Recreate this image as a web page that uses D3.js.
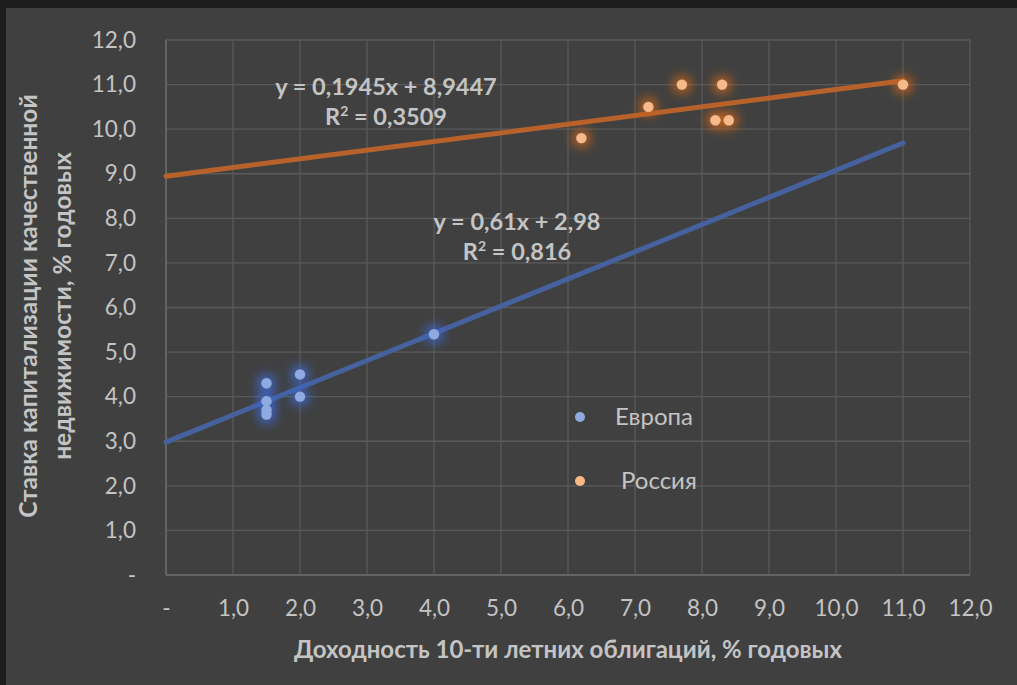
<!DOCTYPE html>
<html>
<head>
<meta charset="utf-8">
<script src="https://cdn.jsdelivr.net/npm/d3@7"></script>
<style>
  html, body { margin: 0; padding: 0; background: #1c1c1c; }
  svg { display: block; }
</style>
</head>
<body>
<svg id="chart" width="1017" height="685"></svg>
<script>
// Bond yields (x) vs. prime real estate cap rates (y), % per year
const europeX = [1.5, 1.5, 1.5, 1.5, 2.0, 2.0, 4.0];
const europeY = [4.3, 3.9, 3.7, 3.6, 4.5, 4.0, 5.4];
const russiaX = [6.2, 7.2, 7.7, 8.3, 8.2, 8.4, 11.0];
const russiaY = [9.8, 10.5, 11.0, 11.0, 10.2, 10.2, 11.0];

// Linear trendlines: slope, intercept, R²
const europeTrend = [0.61, 2.98, 0.816];
const russiaTrend = [0.1945, 8.9447, 0.3509];
const trendRange = [0, 11];

const seriesNames = ["Европа", "Россия"];
const xTicks = [0, 1, 2, 3, 4, 5, 6, 7, 8, 9, 10, 11, 12];
const yTicks = [0, 1, 2, 3, 4, 5, 6, 7, 8, 9, 10, 11, 12];
const xTitle = "Доходность 10-ти летних облигаций, % годовых";
const yTitle = ["Ставка капитализации качественной", "недвижимости, % годовых"];

const svg = d3.select("#chart");
const W = 1017, H = 685;
const plot = { left: 166, right: 970, top: 40, bottom: 575 };

const fmt = v => v === 0 ? "-" : d3.format(".1f")(v).replace(".", ",");
const fmtNum = v => String(v).replace(".", ",");

const x = d3.scaleLinear().domain([0, 12]).range([plot.left, plot.right]);
const y = d3.scaleLinear().domain([0, 12]).range([plot.bottom, plot.top]);

// Dark frame and chart panel
svg.append("rect").attr("width", W).attr("height", H).attr("fill", "#1d1d1d");
svg.append("rect").attr("x", 6).attr("y", 8).attr("width", W - 6).attr("height", H - 8)
  .attr("fill", "#404040");

const defs = svg.append("defs");
function glow(id, color) {
  const f = defs.append("filter").attr("id", id)
    .attr("filterUnits", "userSpaceOnUse")
    .attr("x", 0).attr("y", 0).attr("width", W).attr("height", H);
  f.append("feMorphology").attr("in", "SourceAlpha").attr("operator", "dilate").attr("radius", 3).attr("result", "d");
  f.append("feGaussianBlur").attr("in", "d").attr("stdDeviation", 5.5).attr("result", "b");
  f.append("feFlood").attr("flood-color", color).attr("flood-opacity", 1);
  f.append("feComposite").attr("in2", "b").attr("operator", "in").attr("result", "g");
  const m = f.append("feMerge");
  m.append("feMergeNode").attr("in", "g");
  m.append("feMergeNode").attr("in", "SourceGraphic");
}
glow("glowBlue", "#3d66cc");
glow("glowOrange", "#c2621c");

// Gridlines
const grid = svg.append("g").attr("stroke", "#5a5a5a").attr("stroke-width", 1.3);
grid.selectAll(".gx").data(xTicks).join("line")
  .attr("x1", d => x(d)).attr("x2", d => x(d))
  .attr("y1", plot.top).attr("y2", plot.bottom);
grid.selectAll(".gy").data(yTicks).join("line")
  .attr("x1", plot.left).attr("x2", plot.right)
  .attr("y1", d => y(d)).attr("y2", d => y(d));

// Axes (labels only, lines are the gridlines)
const font = "Lato, 'Open Sans', sans-serif";
const textColor = "#c4c4c4";
const xAxis = svg.append("g").attr("transform", `translate(0,${plot.bottom})`)
  .call(d3.axisBottom(x).tickValues(xTicks).tickFormat(fmt).tickSize(0).tickPadding(25));
const yAxis = svg.append("g").attr("transform", `translate(${plot.left},0)`)
  .call(d3.axisLeft(y).tickValues(yTicks).tickFormat(fmt).tickSize(0).tickPadding(30));
[xAxis, yAxis].forEach(a => {
  a.select(".domain").remove();
  a.selectAll("text").attr("fill", textColor).style("font-family", font).style("font-size", "22.5px");
});
svg.append("line").attr("x1", plot.left).attr("x2", plot.right).attr("y1", plot.bottom).attr("y2", plot.bottom)
  .attr("stroke", "#6a6a6a").attr("stroke-width", 1.5);
svg.append("line").attr("x1", plot.left).attr("x2", plot.left).attr("y1", plot.top).attr("y2", plot.bottom)
  .attr("stroke", "#6a6a6a").attr("stroke-width", 1.5);

// Trendlines
const line = d3.line().x(d => x(d[0])).y(d => y(d[1]));
function trendPts(t) { return trendRange.map(v => [v, t[0] * v + t[1]]); }
svg.append("path").datum(trendPts(russiaTrend)).attr("d", line)
  .attr("fill", "none").attr("stroke", "#b8622b").attr("stroke-width", 5).attr("stroke-linecap", "round");
svg.append("path").datum(trendPts(europeTrend)).attr("d", line)
  .attr("fill", "none").attr("stroke", "#45629e").attr("stroke-width", 5).attr("stroke-linecap", "round");

// Points
function points(xs, ys, fill, filter) {
  svg.append("g").attr("filter", `url(#${filter})`)
    .selectAll("circle").data(d3.zip(xs, ys)).join("circle")
    .attr("cx", d => x(d[0])).attr("cy", d => y(d[1])).attr("r", 5.2).attr("fill", fill);
}
points(europeX, europeY, "#8eaae0", "glowBlue");
points(russiaX, russiaY, "#f5b98a", "glowOrange");

// Trendline equations
function eqLabel(t, cx, cy) {
  const g = svg.append("g").attr("fill", textColor).style("font-family", font)
    .style("font-size", "23.5px").style("font-weight", "bold").attr("text-anchor", "middle");
  g.append("text").attr("x", cx).attr("y", cy)
    .text(`y = ${fmtNum(t[0])}x + ${fmtNum(t[1])}`);
  const r = g.append("text").attr("x", cx).attr("y", cy + 30);
  r.append("tspan").text("R");
  r.append("tspan").attr("dy", -9).style("font-size", "14px").text("2");
  r.append("tspan").attr("dy", 9).text(` = ${fmtNum(t[2])}`);
}
eqLabel(russiaTrend, 386, 95);
eqLabel(europeTrend, 517, 230);

// Legend
const legend = svg.append("g").style("font-family", font).style("font-size", "24px").attr("fill", textColor);
[["#8eaae0", 417, 615], ["#f5b98a", 481, 621]].forEach((d, i) => {
  legend.append("circle").attr("cx", 580).attr("cy", d[1]).attr("r", 5).attr("fill", d[0]);
  legend.append("text").attr("x", d[2]).attr("y", d[1] + 8).text(seriesNames[i]);
});

// Axis titles
svg.append("text").attr("x", (plot.left + plot.right) / 2).attr("y", 658)
  .attr("text-anchor", "middle").attr("fill", textColor)
  .style("font-family", font).style("font-size", "24px").style("font-weight", "bold")
  .text(xTitle);
const yt = svg.append("text").attr("transform", "translate(37,306) rotate(-90)")
  .attr("text-anchor", "middle").attr("fill", textColor)
  .style("font-family", font).style("font-size", "24.5px").style("font-weight", "bold");
yt.append("tspan").attr("x", 0).attr("dy", 0).text(yTitle[0]);
yt.append("tspan").attr("x", 0).attr("dy", 34).text(yTitle[1]);
</script>
</body>
</html>
